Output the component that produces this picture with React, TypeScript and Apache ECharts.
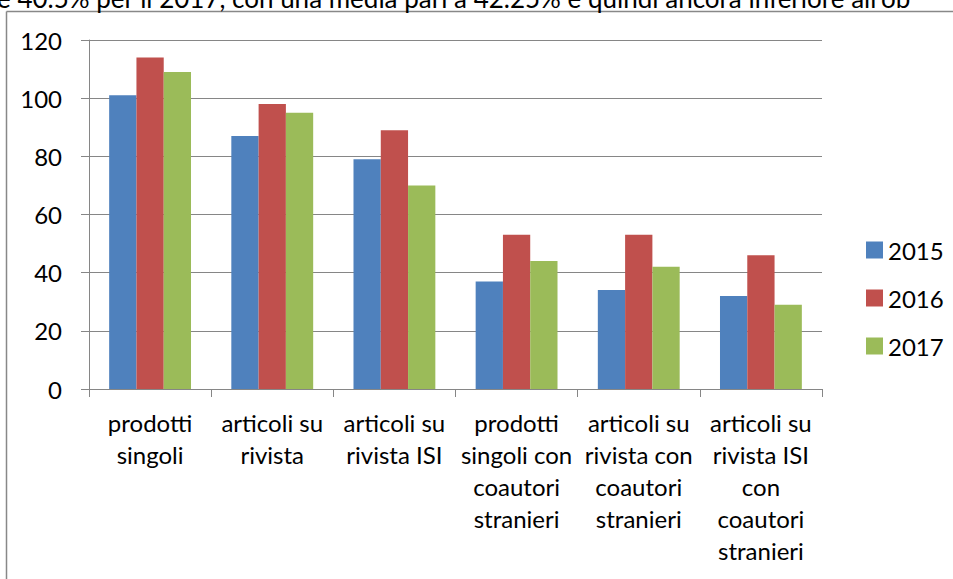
import React, { useEffect, useRef } from "react";
import * as echarts from "echarts";

const categories = [
  "prodotti\nsingoli",
  "articoli su\nrivista",
  "articoli su\nrivista ISI",
  "prodotti\nsingoli con\ncoautori\nstranieri",
  "articoli su\nrivista con\ncoautori\nstranieri",
  "articoli su\nrivista ISI\ncon\ncoautori\nstranieri",
];
const seriesNames = ["2015", "2016", "2017"];
const values2015 = [101, 87, 79, 37, 34, 32];
const values2016 = [114, 98, 89, 53, 53, 46];
const values2017 = [109, 95, 70, 44, 42, 29];
const colors = ["#4F81BD", "#C0504D", "#9BBB59"];
const topText = "e 40.5% per il 2017, con una media pari a 42.25% e quindi ancora inferiore all'ob";

const FONT = "Lato, 'Open Sans', sans-serif";

export default function App() {
  const ref = useRef<HTMLDivElement>(null);
  useEffect(() => {
    document.documentElement.style.overflow = "hidden";
    document.body.style.overflow = "hidden";
    document.body.style.margin = "0";
    if (!ref.current) return;
    const chart = echarts.init(ref.current, undefined, { renderer: "svg" });
    const data = [values2015, values2016, values2017];
    chart.setOption({
      animation: false,
      backgroundColor: "#ffffff",
      textStyle: { fontFamily: FONT },
      graphic: [
        {
          type: "line",
          shape: { x1: 6.5, y1: 11.5, x2: 6.5, y2: 600 },
          style: { stroke: "#888888", lineWidth: 1.5 },
          silent: true,
        },
        {
          type: "line",
          shape: { x1: 6.5, y1: 11.5, x2: 953, y2: 11.5 },
          style: { stroke: "#888888", lineWidth: 1.5 },
          silent: true,
        },
        {
          type: "text",
          x: -3,
          y: 11,
          style: {
            text: topText,
            fontFamily: FONT,
            fontSize: 26,
            fill: "#000000",
            textVerticalAlign: "bottom",
          },
        },
      ],
      grid: { left: 89, right: 131, top: 40, bottom: 190, containLabel: false },
      legend: {
        orient: "vertical",
        left: 861,
        top: 233,
        itemWidth: 17,
        itemHeight: 17,
        itemGap: 24,
        icon: "rect",
        textStyle: { fontFamily: FONT, fontSize: 24, lineHeight: 24, color: "#000" },
        data: seriesNames,
      },
      xAxis: {
        type: "category",
        data: categories,
        axisLine: { lineStyle: { color: "#868686", width: 1 } },
        axisTick: { show: true, length: 8, lineStyle: { color: "#868686" } },
        axisLabel: {
          interval: 0,
          margin: 17,
          fontFamily: FONT,
          fontSize: 24,
          lineHeight: 32,
          color: "#000",
          align: "center",
        },
      },
      yAxis: {
        type: "value",
        min: 0,
        max: 120,
        interval: 20,
        axisLine: { show: true, lineStyle: { color: "#868686", width: 1 } },
        axisTick: { show: true, length: 8, lineStyle: { color: "#868686" } },
        axisLabel: { margin: 27, fontFamily: FONT, fontSize: 24, color: "#000" },
        splitLine: { show: true, lineStyle: { color: "#868686", width: 1 } },
      },
      series: seriesNames.map((name, i) => ({
        name,
        type: "bar",
        data: data[i],
        barGap: "0%",
        barCategoryGap: "33%",
        itemStyle: { color: colors[i] },
      })),
    });
    return () => chart.dispose();
  }, []);
  return (
    <div
      ref={ref}
      style={{ position: "fixed", left: 0, top: 0, width: 953, height: 579 }}
    />
  );
}
